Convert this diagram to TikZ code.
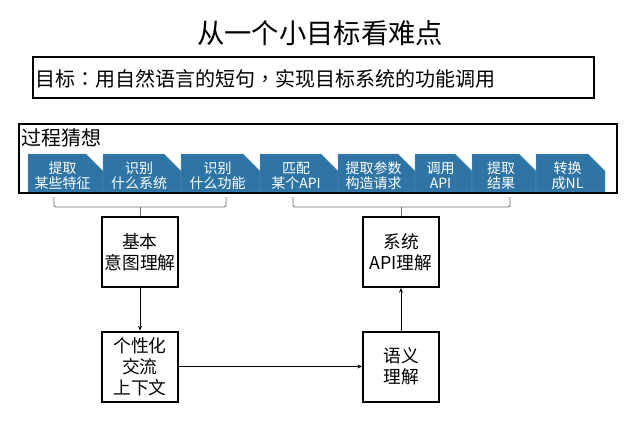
\documentclass[tikz,border=0pt]{standalone}
\usepackage{fontspec}
\setmainfont{Noto Sans CJK SC}
\newfontfamily\tcpunct{Noto Sans CJK TC}
\usetikzlibrary{arrows.meta}
\definecolor{chev}{RGB}{46,117,166}
\definecolor{brk}{RGB}{110,110,110}
\begin{document}
\begin{tikzpicture}[x=0.75pt,y=-0.75pt,
  frame/.style={draw=black,line width=1.5pt},
  boxnode/.style={draw=black,line width=1.5pt,minimum width=57pt,minimum height=52.5pt,align=center,font=\fontsize{13.3}{15.75}\selectfont,inner sep=0pt},
  chevtext/.style={text=white,align=center,font=\fontsize{10.5}{11.25}\selectfont,inner sep=0pt},
  chevfill/.style={fill=chev,draw=chev!75!white,line width=0.3pt},
  brace/.style={draw=brk,line width=0.6pt,rounded corners=1.5pt},
  arr/.style={draw=black,line width=0.5pt,-{Stealth[length=3.5pt,width=3pt]}}]

\useasboundingbox (0,0) rectangle (640,436);
\fill[white] (0,0) rectangle (640,436);

% title
\node[inner sep=0pt,font=\fontsize{20.5}{24}\selectfont] (title) at (320,33) {从一个小目标看难点};

% goal box
\draw[frame] (33,57) rectangle (594,98);
\node[inner sep=0pt,anchor=west,font=\fontsize{15}{18}\selectfont] (goal) at (35,78.5) {目标{\tcpunct ：}用自然语言的短句{\tcpunct ，}实现目标系统的功能调用};

% chevrons
\foreach \l/\r/\t [count=\i] in {28/103/{提取\\某些特征},103/181/{识别\\什么系统},181/260/{识别\\什么功能},260/338/{匹配\\某个API},338/415/{提取参数\\构造请求},415/472/{调用\\API},472/536/{提取\\结果},536/605/{转换\\成NL}}{
  \path[chevfill] (\l,192) -- (\l,154) -- ({\r-17},154) -- (\r,171) -- (\r,192) -- cycle;
  \node[chevtext] (c\i) at ({(\l+\r)/2-3},175.5) {\t};
}

% process box
\draw[frame] (19,124) rectangle (617,193);
\node[inner sep=0pt,anchor=west,font=\fontsize{15}{18}\selectfont] (proc) at (21,138) {过程猜想};

% boxes
\node[boxnode] (b1) at (140,252) {基本\\意图理解};
\node[boxnode] (b2) at (140,366.5) {个性化\\交流\\上下文};
\node[boxnode] (b3) at (401,252) {系统\\API理解};
\node[boxnode] (b4) at (401,366.5) {语义\\理解};

% brackets
\coordinate (lbm) at (140,207);
\coordinate (rbm) at (401,207);
\draw[brace] (54,197) -- (54,207) -- (226,207) -- (226,197);
\draw[brace] (293,197) -- (293,207) -- (510,207) -- (510,197);
\draw[brace,rounded corners=0pt] (lbm) -- (b1.north);
\draw[brace,rounded corners=0pt] (rbm) -- (b3.north);

% arrows
\draw[arr] (b1.south) -- (b2.north);
\draw[arr] (b2.east) -- (b4.west);
\draw[arr] (b4.north) -- (b3.south);
\end{tikzpicture}
\end{document}
